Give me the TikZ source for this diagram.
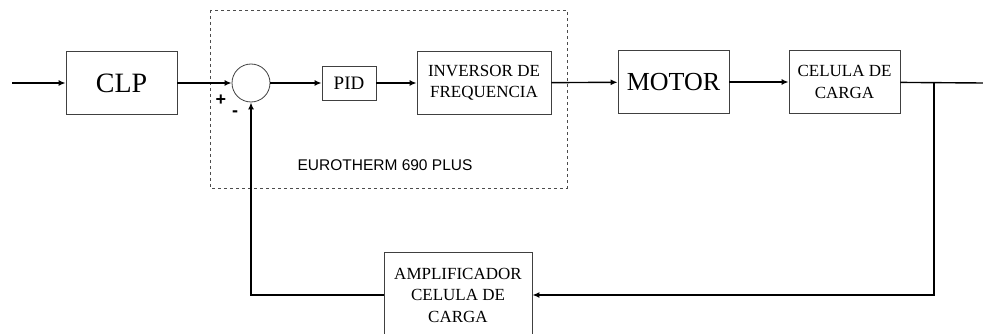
\documentclass[tikz,border=0pt]{standalone}
\usepackage{fontspec}
\setmainfont{Liberation Serif}
\setsansfont{Liberation Sans}
\usetikzlibrary{arrows.meta}
\tikzset{
  bloco/.style={draw=black!75, line width=0.8pt, inner sep=0pt, align=center,
    font=\fontsize{17}{21.5}\selectfont},
  sinal/.style={line width=1.4pt, -{Latex[length=7pt,width=6pt]}},
  sinais/.style={font=\sffamily\bfseries\fontsize{18}{20}\selectfont}
}
\begin{document}
\begin{tikzpicture}[x=1pt,y=-1pt]
\clip (0,0) rectangle (983,334);
% Blocks
\node[bloco, minimum width=111pt, minimum height=63pt, font=\fontsize{28}{32}\selectfont] (clp) at (121.5,83) {CLP};
\node[draw=black!75, line width=0.8pt, circle, minimum size=38pt, inner sep=0pt] (soma) at (251,83) {};
\node[bloco, minimum width=54pt, minimum height=34pt, font=\fontsize{19}{22}\selectfont] (pid) at (349,83) {PID};
\node[bloco, minimum width=134pt, minimum height=63pt] (inv) at (484,83) {INVERSOR DE\\FREQUENCIA};
\node[bloco, minimum width=111pt, minimum height=63pt, font=\fontsize{26}{30}\selectfont] (motor) at (673.5,82) {MOTOR};
\node[bloco, minimum width=111pt, minimum height=63pt] (cel) at (844.5,82) {CELULA DE\\CARGA};
\node[bloco, minimum width=148pt, minimum height=86pt] (amp) at (458,295) {AMPLIFICADOR\\CELULA DE\\CARGA};
% Free ends
\coordinate (entrada) at (12,83);
\coordinate (saida) at (983,83);
\coordinate (ramo) at (934,83);
% Controller frame
\draw[dashed, black!70, line width=0.9pt] (210,10) rectangle (567,188);
\node[font=\sffamily\fontsize{15.5}{18}\selectfont] (euro) at (385,165) {EUROTHERM 690 PLUS};
% Signs
\node[sinais] (mais) at (221,100) {+};
\node[sinais] (menos) at (235,114) {-};
% Forward path
\draw[sinal] (entrada) -- (clp);
\draw[sinal] (clp) -- (soma);
\draw[sinal] (soma) -- (pid);
\draw[sinal] (pid) -- (inv);
\draw[sinal] (inv) -- (motor);
\draw[sinal] (motor) -- (cel);
\draw[line width=1.4pt] (cel) -- (saida);
% Feedback
\draw[sinal] (ramo) |- (amp);
\draw[sinal] (amp) -| (soma);
\end{tikzpicture}
\end{document}
